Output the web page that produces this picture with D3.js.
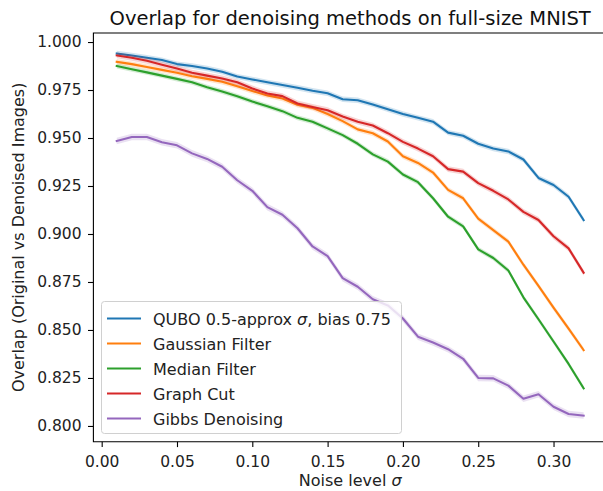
<!DOCTYPE html>
<html>
<head>
<meta charset="utf-8">
<script src="https://cdn.jsdelivr.net/npm/d3@7"></script>
<style>
  body { margin: 0; background: #fff; }
  svg { display: block; font-family: "DejaVu Sans", sans-serif; }
</style>
</head>
<body>
<div id="chart"></div>
<script>
// noise levels (x axis)
var sigma = [0.01,0.02,0.03,0.04,0.05,0.06,0.07,0.08,0.09,0.10,0.11,0.12,0.13,0.14,0.15,0.16,
             0.17,0.18,0.19,0.20,0.21,0.22,0.23,0.24,0.25,0.26,0.27,0.28,0.29,0.30,0.31,0.32];

// mean overlap per method
var qubo = [0.9940,0.9930,0.9918,0.9906,0.9885,0.9875,0.9862,0.9845,0.9820,0.9805,0.9790,0.9776,0.9762,0.9746,0.9733,0.9702,
            0.9697,0.9675,0.9650,0.9625,0.9605,0.9585,0.9528,0.9512,0.9470,0.9445,0.9430,0.9388,0.9292,0.9255,0.9194,0.9072];
var gaussian = [0.9897,0.9885,0.9870,0.9855,0.9840,0.9822,0.9808,0.9793,0.9770,0.9745,0.9722,0.9706,0.9673,0.9657,0.9625,0.9588,
                0.9545,0.9525,0.9482,0.9405,0.9370,0.9320,0.9230,0.9186,0.9080,0.9020,0.8960,0.8840,0.8730,0.8616,0.8507,0.8395];
var median = [0.9875,0.9858,0.9842,0.9825,0.9808,0.9790,0.9765,0.9742,0.9718,0.9690,0.9665,0.9640,0.9605,0.9585,0.9550,0.9515,
              0.9470,0.9415,0.9377,0.9310,0.9270,0.9186,0.9090,0.9040,0.8920,0.8875,0.8810,0.8670,0.8556,0.8440,0.8323,0.8196];
var graphCut = [0.9930,0.9918,0.9902,0.9882,0.9862,0.9840,0.9825,0.9810,0.9790,0.9758,0.9732,0.9718,0.9680,0.9662,0.9645,0.9612,
                0.9585,0.9565,0.9525,0.9480,0.9445,0.9405,0.9338,0.9325,0.9265,0.9225,0.9180,0.9115,0.9073,0.8988,0.8925,0.8798];
var gibbs = [0.9484,0.9505,0.9505,0.9478,0.9462,0.9420,0.9391,0.9350,0.9280,0.9225,0.9140,0.9100,0.9030,0.8935,0.8885,0.8770,
             0.8725,0.8660,0.8628,0.8560,0.8465,0.8435,0.8400,0.8350,0.8250,0.8248,0.8210,0.8142,0.8165,0.8100,0.8062,0.8054];

// half width of the shaded confidence band, one per method
var bandHalf = [0.0014, 0.0014, 0.0013, 0.0015, 0.0017];

var labels = ['QUBO 0.5-approx σ, bias 0.75', 'Gaussian Filter', 'Median Filter', 'Graph Cut', 'Gibbs Denoising'];
var colors = ['#1f77b4', '#ff7f0e', '#2ca02c', '#d62728', '#9467bd'];
var xTicks = [0.00, 0.05, 0.10, 0.15, 0.20, 0.25, 0.30];
var yTicks = [0.800, 0.825, 0.850, 0.875, 0.900, 0.925, 0.950, 0.975, 1.000];

var allSeries = [qubo, gaussian, median, graphCut, gibbs];

var W = 603, H = 491;
var plotL = 93.4, plotR = 607, plotT = 33, plotB = 441.7;

var svg = d3.select('#chart').append('svg')
  .attr('width', W)
  .attr('height', H);

var x = d3.scaleLinear().domain([-0.0055, 0.3355]).range([plotL, plotR]);
var y = d3.scaleLinear().domain([0.7918, 1.0047]).range([plotB, plotT]);

var plot = svg.append('g');

allSeries.forEach(function(vals, i){
  var pts = sigma.map(function(s, j){ return { s: s, v: vals[j] }; });
  var area = d3.area()
    .x(function(d){ return x(d.s); })
    .y0(function(d){ return y(d.v - bandHalf[i]); })
    .y1(function(d){ return y(d.v + bandHalf[i]); });
  var line = d3.line()
    .x(function(d){ return x(d.s); })
    .y(function(d){ return y(d.v); });
  plot.append('path')
    .attr('d', area(pts))
    .attr('fill', colors[i])
    .attr('fill-opacity', 0.2);
  plot.append('path')
    .attr('d', line(pts))
    .attr('fill', 'none')
    .attr('stroke', colors[i])
    .attr('stroke-width', 2.1)
    .attr('stroke-linejoin', 'round')
    .attr('stroke-linecap', 'square');
});

// axes
var xAxis = svg.append('g')
  .attr('transform', 'translate(0,' + plotB + ')')
  .call(d3.axisBottom(x).tickValues(xTicks).tickFormat(d3.format('.2f')).tickSize(5.4).tickPadding(9).tickSizeOuter(0));
var yAxis = svg.append('g')
  .attr('transform', 'translate(' + plotL + ',0)')
  .call(d3.axisLeft(y).tickValues(yTicks).tickFormat(d3.format('.3f')).tickSize(5.4).tickPadding(6.5).tickSizeOuter(0));

[xAxis, yAxis].forEach(function(ax){
  ax.select('.domain').remove();
  ax.selectAll('line').attr('stroke', '#000').attr('stroke-width', 1.1);
  ax.selectAll('text').attr('font-size', '15.5px').attr('fill', '#222').attr('font-family', '"DejaVu Sans", sans-serif');
});

// spines
svg.append('path')
  .attr('d', 'M' + plotR + ',' + plotT + 'H' + plotL + 'V' + plotB + 'H' + plotR)
  .attr('fill', 'none')
  .attr('stroke', '#000')
  .attr('stroke-width', 1.1);

// title and axis labels
svg.append('text')
  .attr('x', (plotL + plotR) / 2)
  .attr('y', 25)
  .attr('text-anchor', 'middle')
  .attr('font-size', '19.5px')
  .attr('fill', '#111')
  .text('Overlap for denoising methods on full-size MNIST');

var xl = svg.append('text')
  .attr('x', (plotL + plotR) / 2)
  .attr('y', 486)
  .attr('text-anchor', 'middle')
  .attr('font-size', '16px')
  .attr('fill', '#222');
xl.append('tspan').text('Noise level ');
xl.append('tspan').attr('font-style', 'italic').text('σ');

svg.append('text')
  .attr('transform', 'translate(24,' + ((plotT + plotB) / 2) + ') rotate(-90)')
  .attr('text-anchor', 'middle')
  .attr('font-size', '16px')
  .attr('fill', '#222')
  .text('Overlap (Original vs Denoised Images)');

// legend
var legend = svg.append('g');
legend.append('rect')
  .attr('x', 101.5).attr('y', 301.5)
  .attr('width', 300).attr('height', 132)
  .attr('rx', 3)
  .attr('fill', '#fff').attr('fill-opacity', 0.8)
  .attr('stroke', '#d0d0d0').attr('stroke-width', 1);

labels.forEach(function(lab, i){
  var ly = 318.5 + i * 25;
  legend.append('line')
    .attr('x1', 107).attr('x2', 141)
    .attr('y1', ly).attr('y2', ly)
    .attr('stroke', colors[i]).attr('stroke-width', 2.1);
  var t = legend.append('text')
    .attr('x', 153).attr('y', ly + 6)
    .attr('font-size', '16px')
    .attr('fill', '#222');
  if (i === 0) {
    t.append('tspan').text('QUBO 0.5-approx ');
    t.append('tspan').attr('font-style', 'italic').text('σ');
    t.append('tspan').text(', bias 0.75');
  } else {
    t.text(lab);
  }
});
</script>
</body>
</html>
